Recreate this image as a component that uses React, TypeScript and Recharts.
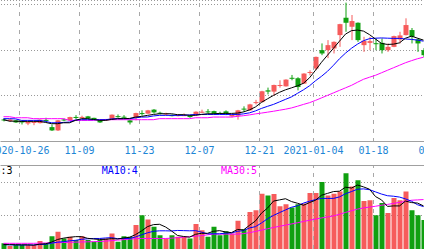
import React from "react";
import { ComposedChart, Bar, Line, XAxis, YAxis, CartesianGrid, ReferenceLine, Cell } from "recharts";

// trading days shown (last two are off the right edge)
const dates = [
  "2020-10-21", "2020-10-22", "2020-10-23", "2020-10-26", "2020-10-27", "2020-10-28", "2020-10-29", "2020-10-30",
  "2020-11-02", "2020-11-03", "2020-11-04", "2020-11-05", "2020-11-06", "2020-11-09", "2020-11-10", "2020-11-11",
  "2020-11-12", "2020-11-13", "2020-11-16", "2020-11-17", "2020-11-18", "2020-11-19", "2020-11-20", "2020-11-23",
  "2020-11-24", "2020-11-25", "2020-11-26", "2020-11-27", "2020-11-30",
  "2020-12-01", "2020-12-02", "2020-12-03", "2020-12-04", "2020-12-07", "2020-12-08", "2020-12-09", "2020-12-10",
  "2020-12-11", "2020-12-14", "2020-12-15", "2020-12-16", "2020-12-17", "2020-12-18", "2020-12-21", "2020-12-22",
  "2020-12-23", "2020-12-24", "2020-12-25", "2020-12-28", "2020-12-29", "2020-12-30", "2020-12-31",
  "2021-01-04", "2021-01-05", "2021-01-06", "2021-01-07", "2021-01-08", "2021-01-11", "2021-01-12", "2021-01-13",
  "2021-01-14", "2021-01-15", "2021-01-18", "2021-01-19", "2021-01-20", "2021-01-21", "2021-01-22", "2021-01-25",
  "2021-01-26", "2021-01-27", "2021-01-28", "2021-01-29", "2021-02-01",
];

const tickDays = ["2020-10-26", "2020-11-09", "2020-11-23", "2020-12-07", "2020-12-21", "2021-01-04", "2021-01-18", "2021-02-01"];
const tickLabels = ["2020-10-26", "11-09", "11-23", "12-07", "12-21", "2021-01-04", "01-18", "02-01"];

const open = [
  9.93, 9.80, 9.85, 9.80, 9.58, 9.63, 9.61, 9.89, 9.26, 8.97,
  9.93, 9.85, 10.15, 10.11, 10.20, 10.07, 9.85, 9.85, 9.96, 10.22,
  10.17, 9.85, 10.08, 10.49, 10.44, 10.79, 10.52, 10.37, 10.31, 10.26,
  10.26, 10.26, 10.31, 10.58, 10.64, 10.66, 10.49, 10.64, 10.20, 10.26,
  10.88, 10.73, 11.38, 11.45, 12.48, 12.37, 12.90, 12.83, 13.58, 13.54,
  13.07, 14.02, 14.39, 16.00, 16.00, 16.15, 17.32, 18.84, 18.05, 18.40,
  16.44, 16.64, 16.61, 16.64, 16.00, 16.29, 16.94, 17.32, 17.76, 16.94, 16.00,
];
const high = [
  10.02, 9.98, 9.89, 9.85, 9.76, 9.76, 9.93, 10.08, 9.49, 9.89,
  10.02, 10.17, 10.31, 10.26, 10.24, 10.08, 9.87, 9.98, 10.37, 10.37,
  10.31, 9.93, 10.52, 10.73, 10.77, 10.84, 10.61, 10.52, 10.37, 10.37,
  10.46, 10.29, 10.64, 10.79, 10.84, 10.70, 10.61, 10.73, 10.37, 10.77,
  11.08, 11.30, 11.65, 12.44, 12.72, 12.98, 13.36, 13.45, 13.83, 13.63,
  13.98, 14.24, 15.44, 16.59, 16.88, 16.77, 18.31, 20.16, 19.08, 18.43,
  17.17, 17.17, 17.03, 17.03, 16.59, 17.27, 17.61, 18.79, 17.94, 17.05, 16.18,
];
const low = [
  9.76, 9.71, 9.63, 9.49, 9.43, 9.43, 9.58, 9.67, 8.92, 8.92,
  9.78, 9.80, 9.96, 10.02, 9.98, 9.93, 9.63, 9.80, 9.93, 10.08,
  10.02, 9.49, 9.85, 10.26, 10.42, 10.44, 10.37, 10.29, 10.20, 10.20,
  10.24, 10.08, 10.26, 10.49, 10.44, 10.40, 10.37, 10.31, 10.11, 9.91,
  10.58, 10.68, 11.25, 11.43, 12.13, 12.02, 12.72, 12.81, 13.36, 12.48,
  13.04, 13.80, 14.24, 15.56, 15.30, 15.71, 16.29, 17.61, 16.88, 16.73,
  15.85, 16.00, 16.00, 15.71, 15.85, 16.26, 16.59, 17.29, 16.59, 15.85, 15.38,
];
const close = [
  9.89, 9.93, 9.67, 9.67, 9.71, 9.71, 9.91, 9.85, 8.97, 9.85,
  9.87, 10.14, 10.11, 10.15, 10.02, 9.96, 9.67, 9.96, 10.35, 10.17,
  10.12, 9.67, 10.49, 10.44, 10.73, 10.55, 10.46, 10.46, 10.26, 10.31,
  10.31, 10.14, 10.61, 10.61, 10.58, 10.44, 10.44, 10.44, 10.33, 10.73,
  10.84, 11.25, 11.45, 12.40, 12.37, 12.95, 12.95, 13.42, 13.54, 12.77,
  13.95, 14.09, 15.41, 15.71, 16.44, 16.73, 18.28, 18.40, 18.55, 16.88,
  16.82, 16.79, 16.55, 16.00, 16.29, 17.23, 17.29, 18.20, 17.17, 16.59, 15.56,
];

const ma5 = [
  9.91, 9.78, 9.78, 9.76, 9.76, 9.76, 9.76, 9.67, 9.56, 9.56,
  9.64, 9.64, 9.85, 10.00, 10.00, 9.93, 9.85, 9.85, 9.93, 10.00,
  10.00, 10.02, 10.14, 10.20, 10.29, 10.37, 10.43, 10.43, 10.43, 10.35,
  10.35, 10.29, 10.29, 10.37, 10.43, 10.43, 10.46, 10.46, 10.46, 10.49,
  10.59, 10.77, 11.03, 11.43, 11.74, 12.04, 12.31, 12.53, 12.70, 12.88,
  13.10, 13.58, 14.24, 14.94, 15.56, 16.17, 16.79, 17.41, 17.71, 17.76,
  17.67, 17.36, 16.97, 16.59, 16.50, 16.53, 16.64, 17.05, 17.23, 17.05, 16.88,
];
const ma10 = [
  10.00, 10.00, 9.98, 9.85, 9.85, 9.85, 9.85, 9.76, 9.64, 9.64,
  9.67, 9.70, 9.89, 9.91, 9.91, 9.91, 9.91, 9.91, 9.98, 10.00,
  10.00, 10.00, 10.07, 10.14, 10.15, 10.24, 10.29, 10.29, 10.29, 10.29,
  10.29, 10.33, 10.37, 10.37, 10.37, 10.37, 10.37, 10.37, 10.37, 10.37,
  10.42, 10.51, 10.68, 10.90, 11.08, 11.25, 11.47, 11.69, 11.91, 12.22,
  12.53, 12.88, 13.32, 13.71, 14.15, 14.68, 15.25, 15.74, 16.17, 16.53,
  16.83, 17.01, 17.05, 17.07, 17.05, 17.03, 17.03, 16.98, 16.94, 16.88, 16.79,
];
const ma30 = [
  10.17, 10.17, 10.08, 10.08, 10.08, 10.00, 10.00, 10.00, 10.00, 10.00,
  10.00, 9.85, 9.85, 9.85, 9.85, 9.85, 9.91, 9.91, 9.91, 9.91,
  9.91, 9.91, 9.91, 9.91, 9.91, 9.91, 10.00, 10.00, 10.00, 10.00,
  10.00, 10.00, 10.08, 10.08, 10.08, 10.14, 10.14, 10.14, 10.14, 10.20,
  10.26, 10.33, 10.42, 10.49, 10.57, 10.65, 10.74, 10.83, 10.94, 11.09,
  11.25, 11.40, 11.60, 11.82, 12.04, 12.26, 12.48, 12.70, 12.92, 13.19,
  13.45, 13.63, 13.80, 14.02, 14.24, 14.46, 14.68, 14.90, 15.08, 15.25, 15.38,
];

const volume = [
  0.34, 0.18, 0.24, 0.24, 0.24, 0.24, 0.48, 0.34, 0.77, 1.03,
  0.63, 0.73, 0.54, 0.77, 0.54, 0.44, 0.54, 0.63, 0.93, 0.44,
  0.77, 0.73, 1.43, 2.02, 1.77, 1.33, 0.83, 0.63, 0.83, 0.73,
  0.73, 0.63, 1.49, 1.13, 0.73, 1.33, 0.83, 1.07, 0.93, 1.69,
  1.19, 2.22, 2.32, 3.31, 3.21, 3.29, 2.56, 2.68, 2.48, 2.68,
  2.72, 3.35, 3.35, 4.01, 3.20, 3.31, 3.45, 4.54, 3.75, 4.11,
  2.88, 2.92, 2.02, 2.76, 2.16, 3.05, 2.92, 3.45, 2.32, 2.02, 1.73,
];
const volMa5 = [
  0.27, 0.26, 0.26, 0.25, 0.25, 0.23, 0.29, 0.31, 0.41, 0.57,
  0.65, 0.70, 0.74, 0.74, 0.64, 0.60, 0.57, 0.58, 0.62, 0.60,
  0.66, 0.70, 0.86, 1.08, 1.34, 1.46, 1.48, 1.32, 1.08, 0.81,
  0.75, 0.71, 0.88, 0.94, 0.94, 1.06, 1.10, 1.02, 0.98, 1.17,
  1.14, 1.42, 1.68, 2.15, 2.45, 2.87, 2.94, 3.01, 2.84, 2.74,
  2.62, 2.78, 2.92, 3.22, 3.33, 3.44, 3.46, 3.70, 3.65, 3.83,
  3.72, 3.58, 3.14, 2.94, 2.55, 2.58, 2.58, 2.87, 2.78, 2.75, 2.58,
];
const volMa10 = [
  0.26, 0.25, 0.24, 0.24, 0.24, 0.24, 0.27, 0.28, 0.35, 0.41,
  0.44, 0.49, 0.52, 0.58, 0.61, 0.63, 0.63, 0.66, 0.68, 0.62,
  0.63, 0.63, 0.72, 0.85, 0.97, 1.06, 1.09, 1.09, 1.08, 1.11,
  1.10, 1.09, 1.10, 1.01, 0.91, 0.91, 0.91, 0.95, 0.96, 1.06,
  1.10, 1.26, 1.34, 1.56, 1.81, 2.01, 2.18, 2.34, 2.50, 2.59,
  2.75, 2.86, 2.96, 3.03, 3.03, 3.03, 3.12, 3.31, 3.44, 3.58,
  3.60, 3.55, 3.42, 3.29, 3.19, 3.16, 3.11, 3.00, 2.86, 2.65, 2.54,
];
const volMa30 = [
  0.34, 0.34, 0.34, 0.34, 0.34, 0.34, 0.35, 0.36, 0.37, 0.38,
  0.39, 0.40, 0.41, 0.42, 0.43, 0.44, 0.45, 0.47, 0.50, 0.53,
  0.56, 0.59, 0.62, 0.63, 0.63, 0.63, 0.63, 0.63, 0.65, 0.68,
  0.71, 0.74, 0.77, 0.80, 0.85, 0.89, 0.89, 0.89, 0.89, 0.89,
  0.92, 0.98, 1.05, 1.13, 1.21, 1.29, 1.36, 1.43, 1.50, 1.57,
  1.65, 1.72, 1.79, 1.86, 1.92, 1.98, 2.08, 2.19, 2.29, 2.39,
  2.46, 2.51, 2.56, 2.62, 2.67, 2.73, 2.79, 2.85, 2.92, 2.94, 2.96,
];

const RED = "#f65b5b";
const GREEN = "#10a010";
const GRID = "#a8a8a8";
const AXIS = "#a0a0a0";
const DATE_BLUE = "#1e86d6";
const MONO = "DejaVu Sans Mono";

const data = dates.map((date, i) => ({
  date,
  open: open[i] ?? null,
  high: high[i] ?? null,
  low: low[i] ?? null,
  close: close[i] ?? null,
  ma5: ma5[i] ?? null,
  ma10: ma10[i] ?? null,
  ma30: ma30[i] ?? null,
  volume: volume[i] ?? null,
  volMa5: volMa5[i] ?? null,
  volMa10: volMa10[i] ?? null,
  volMa30: volMa30[i] ?? null,
}));

// candle drawn inside the [low, high] bar the library places
const Candle = (props: any) => {
  const { x, y, width, height, payload } = props;
  if (payload.open == null || height == null) return null;
  const top = Math.min(y, y + height);
  const h = Math.abs(height);
  const span = payload.high - payload.low || 1;
  const py = (v: number) => top + ((payload.high - v) / span) * h;
  const color = payload.close >= payload.open ? RED : GREEN;
  const cx = x + width / 2;
  const bTop = py(Math.max(payload.open, payload.close));
  const bH = Math.max(1, py(Math.min(payload.open, payload.close)) - bTop);
  return (
    <g>
      <line x1={cx} x2={cx} y1={top} y2={top + h} stroke={color} strokeWidth={1} />
      <rect x={x} y={bTop} width={width} height={bH} fill={color} />
    </g>
  );
};

// the date grid sits a little left of the candle centre
const GridV = (props: any) => (
  <line
    x1={props.x1 - 2}
    x2={props.x2 - 2}
    y1={props.y1}
    y2={props.y2}
    stroke={GRID}
    strokeDasharray="4 5"
    shapeRendering="crispEdges"
  />
);

const DateTick = (props: any) => {
  const k = tickDays.indexOf(props.payload?.value);
  if (k < 0) return null;
  return (
    <text x={props.x - 2} y={154} textAnchor="middle" fill={DATE_BLUE} fontSize={10} fontFamily={MONO}>
      {tickLabels[k]}
    </text>
  );
};

export default function App() {
  return (
    <div style={{ position: "absolute", left: 0, top: 0, width: 424, height: 249, overflow: "hidden", background: "#fff" }}>
      <div style={{ position: "absolute", left: 0, top: 0 }}>
        <ComposedChart width={439} height={165} data={data} margin={{ top: 0, right: 0.5, bottom: 0, left: 0.5 }}>
          <CartesianGrid vertical={false} stroke="#999" strokeDasharray="1 2" shapeRendering="crispEdges" />
          <XAxis
            dataKey="date"
            interval={0}
            ticks={tickDays}
            tick={<DateTick />}
            tickLine={false}
            tickSize={0}
            tickMargin={0}
            height={23.5}
            axisLine={{ stroke: AXIS }}
          />
          <YAxis hide type="number" domain={[8, 20.394]} ticks={[10, 12, 14, 16, 18, 20]} allowDataOverflow />
          {tickDays.map((d) => (
            <ReferenceLine key={d} x={d} stroke={GRID} strokeDasharray="4 5" shape={GridV} />
          ))}
          <Bar
            dataKey={(d: any) => (d.open == null ? null : [d.low, d.high])}
            barSize={5}
            shape={<Candle />}
            isAnimationActive={false}
          />
          <Line dataKey="ma30" stroke="#ff00ff" strokeWidth={1} dot={false} isAnimationActive={false} />
          <Line dataKey="ma10" stroke="#0000ff" strokeWidth={1} dot={false} isAnimationActive={false} />
          <Line dataKey="ma5" stroke="#000000" strokeWidth={1} dot={false} isAnimationActive={false} />
        </ComposedChart>
      </div>

      <div style={{ position: "absolute", left: 0, top: 165 }}>
        <ComposedChart width={439} height={84} data={data} margin={{ top: 0.5, right: 0.5, bottom: 0, left: 0.5 }}>
          <CartesianGrid vertical={false} stroke="#999" strokeDasharray="1 2" shapeRendering="crispEdges" />
          <XAxis dataKey="date" hide />
          <YAxis hide type="number" domain={[0, 5]} ticks={[1, 2, 3, 4]} allowDataOverflow />
          <ReferenceLine y={5} stroke={AXIS} />
          {tickDays.map((d) => (
            <ReferenceLine key={d} x={d} stroke={GRID} strokeDasharray="4 5" shape={GridV} />
          ))}
          <Bar dataKey="volume" barSize={5} isAnimationActive={false}>
            {data.map((d, i) => (
              <Cell key={i} fill={d.close != null && d.close >= (d.open as number) ? RED : GREEN} />
            ))}
          </Bar>
          <Line dataKey="volMa30" stroke="#ff00ff" strokeWidth={1} dot={false} isAnimationActive={false} />
          <Line dataKey="volMa10" stroke="#0000ff" strokeWidth={1} dot={false} isAnimationActive={false} />
          <Line dataKey="volMa5" stroke="#000000" strokeWidth={1} dot={false} isAnimationActive={false} />
        </ComposedChart>
      </div>

      <svg width={424} height={249} style={{ position: "absolute", left: 0, top: 0, pointerEvents: "none" }}>
        <g fontFamily={MONO} fontSize={10}>
          <text x={-17.6} y={174.3} fill="#000000">MA5:3</text>
          <text x={101.7} y={174.3} fill="#0000ff">MA10:4</text>
          <text x={221} y={174.3} fill="#ff00ff">MA30:5</text>
        </g>
      </svg>
    </div>
  );
}
